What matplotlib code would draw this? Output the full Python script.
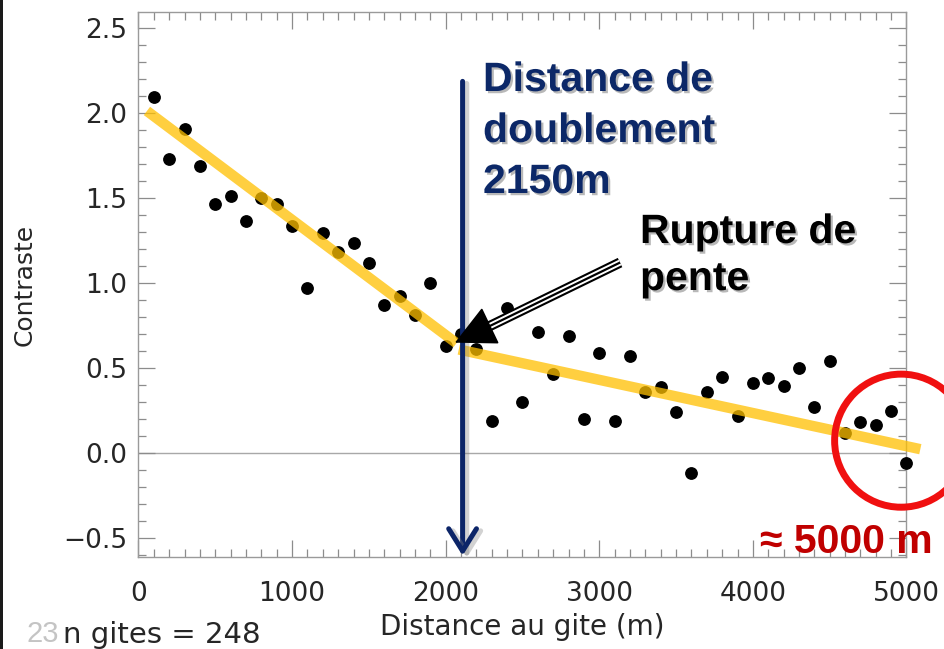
import matplotlib
matplotlib.use("Agg")
import matplotlib.pyplot as plt
import matplotlib.patheffects as pe
from matplotlib.patches import Ellipse, Rectangle
from matplotlib.ticker import MultipleLocator

# ---------------- data ----------------
distance_m = [100, 200, 300, 400, 500, 600, 700, 800, 900, 1000,
              1100, 1200, 1300, 1400, 1500, 1600, 1700, 1800, 1900, 2000,
              2100, 2200, 2300, 2400, 2500, 2600, 2700, 2800, 2900, 3000,
              3100, 3200, 3300, 3400, 3500, 3600, 3700, 3800, 3900, 4000,
              4100, 4200, 4300, 4400, 4500, 4600, 4700, 4800, 4900, 5000]
contraste = [2.09, 1.725, 1.906, 1.688, 1.465, 1.508, 1.362, 1.498, 1.465, 1.333,
             0.971, 1.292, 1.18, 1.233, 1.118, 0.872, 0.925, 0.808, 0.996, 0.631,
             0.70, 0.608, 0.19, 0.851, 0.30, 0.713, 0.465, 0.69, 0.20, 0.589,
             0.186, 0.572, 0.357, 0.39, 0.239, -0.12, 0.357, 0.449, 0.215, 0.41,
             0.439, 0.392, 0.502, 0.272, 0.541, 0.118, 0.18, 0.165, 0.247, -0.061]

# piecewise fit (two segments)
fit1_x = [55, 2070]
fit1_y = [2.01, 0.645]
fit2_x = [2085, 5090]
fit2_y = [0.608, 0.022]

doubling_x = 2110
xticks = [0, 1000, 2000, 3000, 4000, 5000]
yticks = [-0.5, 0.0, 0.5, 1.0, 1.5, 2.0, 2.5]
ytick_labels = ["\u22120.5", "0.0", "0.5", "1.0", "1.5", "2.0", "2.5"]

W, H = 945, 649
fig = plt.figure(figsize=(W / 100, H / 100), dpi=100)
fig.patch.set_facecolor("white")


def fx(px):
    return px / W


def fy(py):
    return 1 - py / H


ax = fig.add_axes([fx(138.5), fy(556.7), (906.5 - 138.5) / W, (556.7 - 12.3) / H])
ax.set_xlim(0, 5000)
ax.set_ylim(-0.61, 2.59)

tick_grey = "#8c8c8c"
for s in ax.spines.values():
    s.set_color("#9a9a9a")
    s.set_linewidth(1.0)

ax.set_xticks(xticks)
ax.set_xticklabels([str(v) for v in xticks])
ax.set_yticks(yticks)
ax.set_yticklabels(ytick_labels)
ax.xaxis.set_minor_locator(MultipleLocator(100))
ax.yaxis.set_minor_locator(MultipleLocator(0.1))
ax.tick_params(which="both", direction="in", top=True, right=True,
               color=tick_grey, width=0.9)
ax.tick_params(which="major", length=12)
ax.tick_params(which="minor", length=5.5)
ax.tick_params(axis="x", which="major", pad=17.5, labelsize=19, labelcolor="#262626")
ax.tick_params(axis="y", which="major", pad=8, labelsize=19, labelcolor="#262626")

# zero line
ax.axhline(0, color="#a8a8a8", lw=1.0, zorder=1)

# data points
ax.plot(distance_m, contraste, "o", color="black", markersize=8.2,
        clip_on=False, zorder=3)

# yellow fit segments
for fxs, fys in ((fit1_x, fit1_y), (fit2_x, fit2_y)):
    ax.plot(fxs, fys, color="#ffc000", alpha=0.75, lw=7.5,
            solid_capstyle="butt", clip_on=False, zorder=4)

# labels
ax.set_xlabel("Distance au gite (m)", fontsize=20, color="#262626", va="baseline")
ax.xaxis.set_label_coords(0.5, (556.7 - 635) / (556.7 - 12.3))
ax.set_ylabel("Contraste", fontsize=18, color="#262626", va="center")
ax.yaxis.set_label_coords((25 - 138.5) / 768.0, 0.5)

# navy vertical arrow (doubling distance)
navy = "#0c2568"
ax.annotate("", xy=(doubling_x, -0.604), xytext=(doubling_x, 2.184),
            xycoords="data",
            arrowprops=dict(arrowstyle="->,head_length=0.8,head_width=0.5",
                            mutation_scale=20, color=navy, lw=3.6,
                            shrinkA=0, shrinkB=0,
                            path_effects=[pe.SimpleLineShadow(offset=(3, -1.5),
                                                              shadow_color="gray",
                                                              alpha=0.35),
                                          pe.Normal()]),
            annotation_clip=False, zorder=6)

# black triple-line arrow ("Rupture de pente")
tail = (3135, 1.119)
head_back = (2285, 0.745)
tip = (2060, 0.648)
ax.plot([tail[0], head_back[0]], [tail[1], head_back[1]], color="black", lw=1.6,
        solid_capstyle="butt", zorder=7,
        path_effects=[pe.Stroke(linewidth=7.4, foreground="black"),
                      pe.Stroke(linewidth=4.4, foreground="white"),
                      pe.Normal()])
ax.annotate("", xy=tip, xytext=head_back,
            arrowprops=dict(arrowstyle="-|>,head_length=0.8,head_width=0.4",
                            mutation_scale=33, color="black", lw=1.2,
                            shrinkA=0, shrinkB=0),
            zorder=8)

# red circle around 5000 m
ax.add_patch(Ellipse((4965, 0.072), width=2 * 66.5 / 153.6 * 1000,
                     height=2 * 66.5 / 170.0, fill=False, edgecolor="#f01010",
                     lw=5.0, clip_on=False, zorder=9))

# annotation texts
bold_fam = ["Liberation Sans", "DejaVu Sans"]
shadow = [pe.withSimplePatchShadow(offset=(1.6, -1.6), shadow_rgbFace="#7f7f7f",
                                   alpha=0.55)]
for line, base in (("Distance de", 91), ("doublement", 142), ("2150m", 193)):
    fig.text(fx(483), fy(base), line, fontsize=29.5, fontweight="bold",
             family=bold_fam, color="#0c2868", va="baseline", ha="left",
             path_effects=shadow)
for line, base in (("Rupture de", 243), ("pente", 290)):
    fig.text(fx(640), fy(base), line, fontsize=29.5, fontweight="bold",
             family=bold_fam, color="black", va="baseline", ha="left",
             path_effects=shadow)
fig.text(fx(933), fy(553), "\u2248 5000 m", fontsize=29.5, fontweight="bold",
         family=bold_fam, color="#c00000", va="baseline", ha="right")

fig.text(fx(63), fy(643), "n gites = 248", fontsize=21, color="#262626",
         va="baseline", ha="left", zorder=2)
fig.text(fx(27), fy(648), "23", fontsize=21, color="#c4c4c4",
         family=["Liberation Sans", "DejaVu Sans"], va="bottom", ha="left",
         zorder=0)

# left dark border of the slide
fig.add_artist(Rectangle((0, 0), 3 / W, 1, transform=fig.transFigure,
                         color="#1a1a1a", lw=0))

fig.savefig("out.png", dpi=100)
